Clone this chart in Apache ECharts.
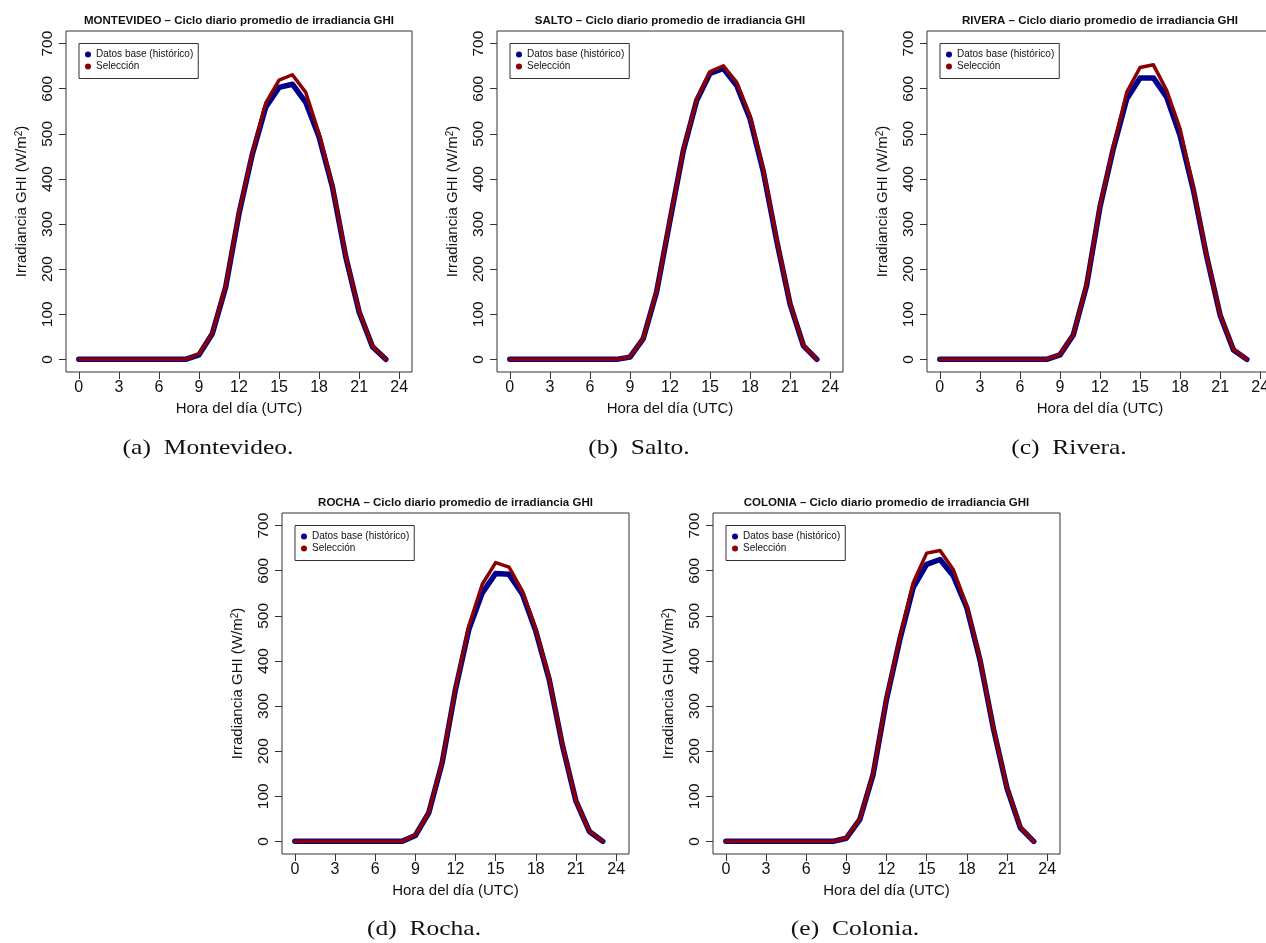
<!DOCTYPE html>
<html>
<head>
<meta charset="utf-8">
<script src="https://cdn.jsdelivr.net/npm/echarts@6/dist/echarts.min.js"></script>
<style>
html,body{margin:0;padding:0;background:#fff;}
#chart{width:1266px;height:943px;}
</style>
</head>
<body>
<div id="chart"></div>
<script>
// ---- Data ----
const hours = [0,1,2,3,4,5,6,7,8,9,10,11,12,13,14,15,16,17,18,19,20,21,22,23];
const xTicks = [0,3,6,9,12,15,18,21,24];
const yTicks = [0,100,200,300,400,500,600,700];

const stations = ['MONTEVIDEO','SALTO','RIVERA','ROCHA','COLONIA'];
const captions = ['(a)  Montevideo.','(b)  Salto.','(c)  Rivera.','(d)  Rocha.','(e)  Colonia.'];
const seriesNames = ['Datos base (histórico)','Selección'];

const montevideoBase = [0,0,0,0,0,0,0,0,0,10,57,160,323,455,559,603,610,570,493,382,227,105,28,0];
const montevideoSel  = [0,0,0,0,0,0,0,0,0,12,58,163,326,458,568,619,631,592,500,386,230,107,29,0];
const saltoBase      = [0,0,0,0,0,0,0,0,0,5,46,150,308,463,574,634,645,607,533,415,262,122,30,0];
const saltoSel       = [0,0,0,0,0,0,0,0,0,6,47,152,310,465,576,638,651,614,540,420,265,124,31,0];
const riveraBase     = [0,0,0,0,0,0,0,0,0,10,54,164,338,467,577,624,624,581,496,375,227,98,21,0];
const riveraSel      = [0,0,0,0,0,0,0,0,0,11,55,166,341,470,592,647,653,596,511,380,230,100,22,0];
const rochaBase      = [0,0,0,0,0,0,0,0,0,13,63,174,337,470,551,594,592,548,466,359,211,89,22,0];
const rochaSel       = [0,0,0,0,0,0,0,0,0,14,64,176,340,478,570,618,608,555,470,362,213,90,22,0];
const coloniaBase    = [0,0,0,0,0,0,0,0,0,7,48,148,315,448,563,614,625,588,518,400,248,118,30,0];
const coloniaSel     = [0,0,0,0,0,0,0,0,0,8,49,150,318,452,574,639,645,602,522,403,250,120,31,0];

const baseData = [montevideoBase, saltoBase, riveraBase, rochaBase, coloniaBase];
const selData  = [montevideoSel, saltoSel, riveraSel, rochaSel, coloniaSel];

// ---- Layout ----
const boxes = [
  {left:66,  top:31,  width:346, height:341},
  {left:497, top:31,  width:346, height:341},
  {left:927, top:31,  width:346, height:341},
  {left:282, top:513, width:347, height:341},
  {left:713, top:513, width:347, height:341}
];
const captionPos = [[208,448],[639,448],[1069,448],[424,929],[855,929]];
const BLUE = '#00008B', RED = '#8B0000';
const FONT = '"Liberation Sans", Arial, Helvetica, sans-serif';

const grid = [], xAxis = [], yAxis = [], series = [], legend = [], title = [], graphic = [];
boxes.forEach((b, i) => {
  grid.push({left:b.left, top:b.top, width:b.width, height:b.height, show:true,
    borderColor:'#333', borderWidth:1, backgroundColor:'transparent',
    containLabel:false, outerBoundsMode:'none'});
  xAxis.push({type:'value', gridIndex:i, min:-0.96, max:24.96,
    axisLine:{show:false, onZero:false}, splitLine:{show:false},
    axisTick:{show:true, inside:false, length:7, customValues:xTicks, lineStyle:{color:'#333'}},
    axisLabel:{customValues:xTicks, fontSize:16, color:'#111', fontFamily:FONT, margin:8},
    name:'Hora del día (UTC)', nameLocation:'middle', nameGap:29,
    nameTextStyle:{fontSize:15, color:'#111', fontFamily:FONT}});
  yAxis.push({type:'value', gridIndex:i, min:-28, max:728,
    axisLine:{show:false, onZero:false}, splitLine:{show:false},
    axisTick:{show:true, inside:false, length:7, customValues:yTicks, lineStyle:{color:'#333'}},
    axisLabel:{customValues:yTicks, fontSize:15.5, color:'#111', fontFamily:FONT, rotate:90, margin:10},
    name:'Irradiancia GHI (W/m{sup|2})', nameLocation:'middle', nameGap:37,
    nameTextStyle:{fontSize:15, color:'#111', fontFamily:FONT,
      rich:{sup:{fontSize:10, color:'#111', fontFamily:FONT, verticalAlign:'top', lineHeight:10}}}});
  series.push({type:'line', name:seriesNames[0], xAxisIndex:i, yAxisIndex:i,
    data:hours.map((h,k)=>[h, baseData[i][k]]), showSymbol:false, symbol:'none',
    color:BLUE, lineStyle:{color:BLUE, width:5.5, cap:'round', join:'round'}, z:2, silent:true});
  series.push({type:'line', name:seriesNames[1], xAxisIndex:i, yAxisIndex:i,
    data:hours.map((h,k)=>[h, selData[i][k]]), showSymbol:false, symbol:'none',
    color:RED, lineStyle:{color:RED, width:3.5, cap:'round', join:'round'}, z:3, silent:true});
  legend.push({left:b.left+13, top:b.top+12.5, orient:'vertical', data:seriesNames,
    icon:'circle', itemWidth:6, itemHeight:6, itemGap:2, selectedMode:false,
    borderColor:'#333', borderWidth:1, borderRadius:0, padding:[6,5,7,6],
    backgroundColor:'#fff',
    textStyle:{fontSize:10, color:'#111', fontFamily:FONT}});
  title.push({text:stations[i] + ' – Ciclo diario promedio de irradiancia GHI',
    left:b.left + b.width/2, top:b.top-16, textAlign:'center', padding:0,
    textStyle:{fontSize:11.5, fontWeight:'bold', color:'#111', fontFamily:FONT}});
  graphic.push({type:'text', x:captionPos[i][0], y:captionPos[i][1], scaleX:1.16, scaleY:1,
    style:{text:captions[i], font:'22px "Liberation Serif", "Times New Roman", serif',
      fill:'#111', align:'center', verticalAlign:'middle', textAlign:'center', textVerticalAlign:'middle'}});
});

const chart = echarts.init(document.getElementById('chart'), null, {renderer:'canvas'});
chart.setOption({animation:false, backgroundColor:'#fff', grid, xAxis, yAxis, series, legend, title, graphic});
</script>
</body>
</html>
